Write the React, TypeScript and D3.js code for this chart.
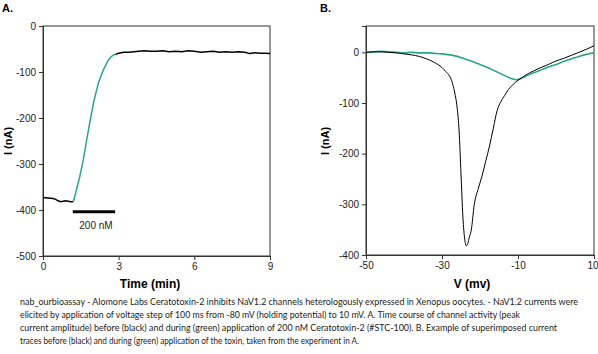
import React from 'react';
import * as d3 from 'd3';

// panel A: peak current vs time
const timeBefore = [0, 0.2, 0.4, 0.5, 0.6, 0.7, 0.8, 0.9, 1.0, 1.1, 1.2];
const currentBefore = [-373, -374, -375, -377, -380, -382, -381, -380, -381, -382, -382];
const timeToxin = [1.2, 1.3, 1.46, 1.6, 1.73, 1.87, 2.0, 2.1, 2.19, 2.3, 2.39, 2.5, 2.59, 2.7, 2.79, 2.87];
const currentToxin = [-382, -362, -327, -290, -248, -205, -168, -145, -125, -108, -96, -84, -74, -67, -63, -62];
const timeAfter = [2.87, 3.0, 3.2, 3.4, 3.6, 3.8, 4.0, 4.25, 4.5, 4.75, 5.0, 5.25, 5.5, 5.75, 6.0, 6.25, 6.5, 6.75, 7.0, 7.25, 7.5, 7.75, 8.0, 8.2, 8.4, 8.6, 8.8, 9.0];
const currentAfter = [-62, -59, -57, -57, -56, -55, -54, -55, -55, -54, -56, -55, -56, -54, -55, -57, -56, -55, -57, -56, -57, -56, -57, -60, -58, -59, -59, -60];
const barTimes = [1.18, 2.86];
const barLevel = -404;
const timeTicks = [0, 3, 6, 9];
const currentTicksA = [0, -100, -200, -300, -400, -500];

// panel B: I-V traces
const voltBlack = [-50, -48, -46, -44, -42, -40, -38, -36, -34, -32, -30, -29, -28, -27.5, -27, -26.5, -26, -25.5, -25, -24.5, -24, -23.6, -23.2, -22.8, -22.3, -21.5, -20.5, -19.5, -18.5, -17.5, -16.5, -15.5, -14.5, -13.5, -12.5, -11.5, -10.5, -9.5, -8, -6, -4, -2, 0, 2, 4, 6, 8, 10];
const currentBlack = [0, 1, 1, 0, -1, -3, -5, -8, -13, -20, -30, -38, -47, -55, -68, -85, -110, -155, -240, -325, -370, -382, -377, -365, -351, -300, -270, -245, -215, -185, -150, -115, -97, -85, -73, -65, -58, -53, -45, -37, -30, -24, -17, -12, -6, 0, 6, 13];
const voltGreen = [-50, -48, -46, -44, -42, -40, -38, -36, -34, -32, -30, -28, -26, -24, -22, -20, -18, -16, -14, -12, -10.5, -9.5, -8, -6, -4, -2, 0, 2, 4, 6, 8, 10];
const currentGreen = [0, 1, 2, 1, 0, -1, 0, -1, -1, -2, -3, -5, -8, -13, -18, -24, -30, -37, -44, -51, -54, -52, -47, -41, -35, -29, -24, -18, -13, -8, -4, -1];
const voltTicks = [-50, -30, -10, 10];
const currentTicksB = [0, -100, -200, -300, -400];

const captionLines = [
  'nab_ourbioassay - Alomone Labs Ceratotoxin-2 inhibits NaV1.2 channels heterologously expressed in Xenopus oocytes. - NaV1.2 currents were',
  'elicited by application of voltage step of 100 ms from -80 mV (holding potential) to 10 mV. A. Time course of channel activity (peak',
  'current amplitude) before (black) and during (green) application of 200 nM Ceratotoxin-2 (#STC-100). B. Example of superimposed current',
  'traces before (black) and during (green) application of the toxin, taken from the experiment in A.',
];
const captionWidths = [558, 500, 537, 339];

const green = '#2aa58c';
const tickFont = '"Liberation Sans Narrow", "Liberation Sans", Arial, sans-serif';
const labelFont = '"Liberation Sans", Arial, sans-serif';

export default function App() {
  const ref = React.useRef<SVGSVGElement>(null);

  React.useEffect(() => {
    const svg = d3.select(ref.current);
    svg.selectAll('*').remove();
    const fmt = (d: d3.NumberValue) => String(d);

    // ---- panel A ----
    const xA = d3.scaleLinear().domain([0, 9]).range([43, 270]);
    const yA = d3.scaleLinear().domain([-500, 0]).range([256, 26]);
    const gA = svg.append('g');

    gA.append('rect')
      .attr('x', 43).attr('y', 26)
      .attr('width', 227).attr('height', 230)
      .attr('fill', 'none').attr('stroke', '#333').attr('stroke-width', 1);

    const axA = gA.append('g')
      .attr('transform', 'translate(0,256)')
      .call(d3.axisBottom(xA).tickValues(timeTicks).tickSize(4).tickPadding(3).tickFormat(fmt));
    const ayA = gA.append('g')
      .attr('transform', 'translate(43,0)')
      .call(d3.axisLeft(yA).tickValues(currentTicksA).tickSize(4).tickPadding(3).tickFormat(fmt));
    [axA, ayA].forEach(a => {
      a.select('.domain').attr('stroke', '#333');
      a.selectAll('line').attr('stroke', '#333');
      a.selectAll('text').attr('font-family', tickFont).attr('font-size', 10).attr('fill', '#222');
    });

    const lineA = d3.line<[number, number]>().x(d => xA(d[0])).y(d => yA(d[1]));
    gA.append('path')
      .attr('d', lineA(timeBefore.map((t, i) => [t, currentBefore[i]])))
      .attr('fill', 'none').attr('stroke', '#000').attr('stroke-width', 1.5);
    gA.append('path')
      .attr('d', lineA(timeAfter.map((t, i) => [t, currentAfter[i]])))
      .attr('fill', 'none').attr('stroke', '#000').attr('stroke-width', 1.5);
    gA.append('path')
      .attr('d', lineA(timeToxin.map((t, i) => [t, currentToxin[i]])))
      .attr('fill', 'none').attr('stroke', green).attr('stroke-width', 1.5);

    gA.append('line')
      .attr('x1', xA(barTimes[0])).attr('x2', xA(barTimes[1]))
      .attr('y1', yA(barLevel)).attr('y2', yA(barLevel))
      .attr('stroke', '#000').attr('stroke-width', 3);
    gA.append('text')
      .attr('x', xA((barTimes[0] + barTimes[1]) / 2) + 2).attr('y', yA(barLevel) + 17)
      .attr('text-anchor', 'middle')
      .attr('font-family', tickFont).attr('font-size', 10).attr('fill', '#222')
      .text('200 nM');

    gA.append('text')
      .attr('x', 150).attr('y', 288)
      .attr('text-anchor', 'middle')
      .attr('font-family', labelFont).attr('font-size', 12).attr('font-weight', 'bold')
      .text('Time (min)');
    gA.append('text')
      .attr('transform', 'translate(12,141) rotate(-90)')
      .attr('text-anchor', 'middle')
      .attr('font-family', labelFont).attr('font-size', 11).attr('font-weight', 'bold')
      .text('I (nA)');
    gA.append('text')
      .attr('x', 2).attr('y', 12)
      .attr('font-family', labelFont).attr('font-size', 11).attr('font-weight', 'bold')
      .text('A.');

    // ---- panel B ----
    const xB = d3.scaleLinear().domain([-50, 10]).range([366, 594]);
    const yB = d3.scaleLinear().domain([-400, 52]).range([255, 26]);
    const gB = svg.append('g');

    gB.append('rect')
      .attr('x', 366).attr('y', 26)
      .attr('width', 228).attr('height', 229)
      .attr('fill', 'none').attr('stroke', '#333').attr('stroke-width', 1);

    const axB = gB.append('g')
      .attr('transform', 'translate(0,255)')
      .call(d3.axisBottom(xB).tickValues(voltTicks).tickSize(4).tickPadding(3).tickFormat(fmt));
    const ayB = gB.append('g')
      .attr('transform', 'translate(366,0)')
      .call(d3.axisLeft(yB).tickValues(currentTicksB).tickSize(4).tickPadding(3).tickFormat(fmt));
    [axB, ayB].forEach(a => {
      a.select('.domain').attr('stroke', '#333');
      a.selectAll('line').attr('stroke', '#333');
      a.selectAll('text').attr('font-family', tickFont).attr('font-size', 10).attr('fill', '#222');
    });
    // last tick label sits against the page edge
    axB.selectAll<SVGTextElement, number>('text')
      .filter(d => d === voltTicks[voltTicks.length - 1])
      .attr('text-anchor', 'end').attr('dx', 4);

    const lineB = d3.line<[number, number]>().x(d => xB(d[0])).y(d => yB(d[1])).curve(d3.curveMonotoneX);
    gB.append('path')
      .attr('d', lineB(voltGreen.map((v, i) => [v, currentGreen[i]])))
      .attr('fill', 'none').attr('stroke', green).attr('stroke-width', 1.6);
    gB.append('path')
      .attr('d', lineB(voltBlack.map((v, i) => [v, currentBlack[i]])))
      .attr('fill', 'none').attr('stroke', '#000').attr('stroke-width', 1);

    gB.append('text')
      .attr('x', 472).attr('y', 288)
      .attr('text-anchor', 'middle')
      .attr('font-family', labelFont).attr('font-size', 12).attr('font-weight', 'bold')
      .text('V (mv)');
    gB.append('text')
      .attr('transform', 'translate(329,141) rotate(-90)')
      .attr('text-anchor', 'middle')
      .attr('font-family', labelFont).attr('font-size', 11).attr('font-weight', 'bold')
      .text('I (nA)');
    gB.append('text')
      .attr('x', 320).attr('y', 12)
      .attr('font-family', labelFont).attr('font-size', 11).attr('font-weight', 'bold')
      .text('B.');

    // ---- caption ----
    captionLines.forEach((line, i) => {
      svg.append('text')
        .attr('x', 20).attr('y', 305 + i * 13)
        .attr('font-family', 'Lato, "Open Sans", sans-serif').attr('font-size', 10).attr('fill', '#222')
        .attr('textLength', captionWidths[i]).attr('lengthAdjust', 'spacingAndGlyphs')
        .text(line);
    });
  }, []);

  return (
    <svg ref={ref} width={598} height={354}
      style={{position: 'absolute', left: 0, top: 0, background: '#fff'}} />
  );
}
